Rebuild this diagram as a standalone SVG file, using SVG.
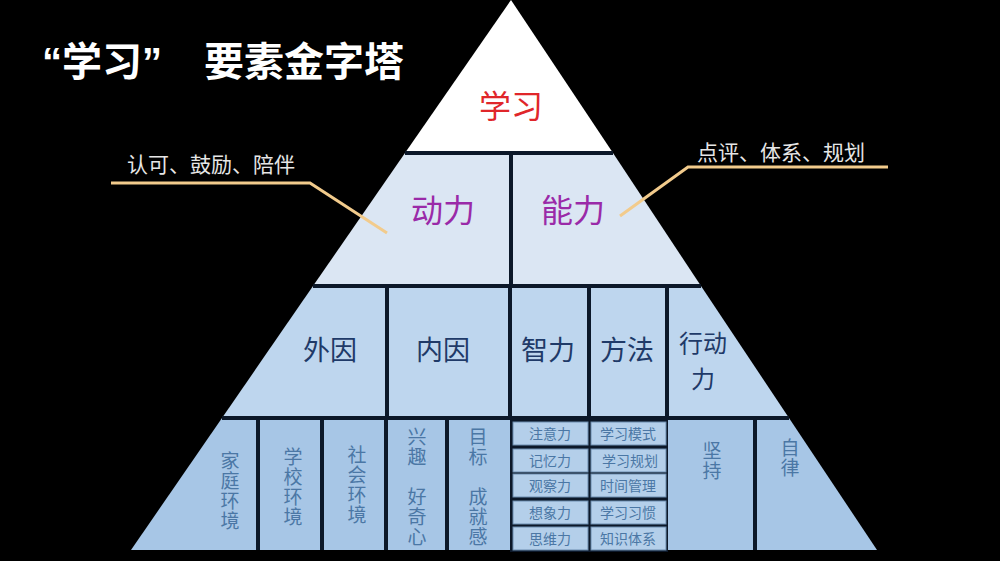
<svg xmlns="http://www.w3.org/2000/svg" width="1000" height="561" viewBox="0 0 1000 561">
<style>
text{font-family:"Noto Sans CJK SC","Noto Sans",sans-serif;text-anchor:middle}
.ttl{fill:#fff;font-weight:bold;font-size:40px;text-anchor:start;font-family:"Liberation Sans","Noto Sans CJK SC",sans-serif}
.side{fill:#e6e6e6;font-size:21px;text-anchor:start}
.lead{fill:none;stroke:#f2cb8c;stroke-width:3}
.div{stroke:#0c1829;stroke-width:4;fill:none}
.t1{fill:#e0262a;font-size:32px}
.t2{fill:#9a2aa8;font-size:32px}
.t3{fill:#1f3a68;font-size:27px}
.t4{fill:#4b77a5;font-size:19px;writing-mode:vertical-rl;text-anchor:start;letter-spacing:1px}
.cell{fill:#b4cfea;stroke:#6d8db0;stroke-width:1}
.ct{fill:#4b77a5;font-size:14px}
</style>
<rect width="1000" height="561" fill="#000"/>
<g id="title">
<text class="ttl" x="42" y="76">“学习”</text>
<text class="ttl" x="204" y="76">要素金字塔</text>
</g>
<g id="tier-fills">
<polygon points="511,0 405,153 613,153" fill="#ffffff"/>
<polygon points="405,153 613,153 701,286 313,286" fill="#dbe6f3"/>
<polygon points="313,286 701,286 789,418 222,418" fill="#bed6ee"/>
<polygon points="222,418 789,418 877,550 131,550" fill="#a7c6e6"/>
<rect x="510" y="418" width="158" height="134" fill="#0c1829"/>
</g>
<g id="connectors">
<polyline class="lead" points="111,183 310,183 387,233"/>
<polyline class="lead" points="888,167 688,167 620,216"/>
<line class="div" x1="405" y1="153" x2="613" y2="153"/>
<line class="div" x1="313" y1="286" x2="701" y2="286"/>
<line class="div" x1="222" y1="418" x2="789" y2="418"/>
<line class="div" x1="511" y1="153" x2="511" y2="286"/>
<line class="div" x1="387" y1="286" x2="387" y2="418"/>
<line class="div" x1="510" y1="286" x2="510" y2="418"/>
<line class="div" x1="589" y1="286" x2="589" y2="418"/>
<line class="div" x1="667" y1="286" x2="667" y2="418"/>
<line class="div" x1="258" y1="418" x2="258" y2="550"/>
<line class="div" x1="322" y1="418" x2="322" y2="550"/>
<line class="div" x1="386" y1="418" x2="386" y2="550"/>
<line class="div" x1="447" y1="418" x2="447" y2="550"/>
<line class="div" x1="755" y1="418" x2="755" y2="550"/>
</g>
<g id="label-left"><text class="side" x="127" y="172">认可、鼓励、陪伴</text></g>
<g id="label-right"><text class="side" x="697" y="160">点评、体系、规划</text></g>
<g id="n-xuexi"><text class="t1" x="511" y="118">学习</text></g>
<g id="n-dongli"><text class="t2" x="443" y="222">动力</text></g>
<g id="n-nengli"><text class="t2" x="573" y="222">能力</text></g>
<g id="n-waiyin"><text class="t3" x="330" y="360">外因</text></g>
<g id="n-neiyin"><text class="t3" x="443" y="360">内因</text></g>
<g id="n-zhili"><text class="t3" x="548" y="360">智力</text></g>
<g id="n-fangfa"><text class="t3" x="627" y="360">方法</text></g>
<g id="n-xingdongli"><text class="t3" x="703" y="352" style="font-size:24px">行动</text><text class="t3" x="703" y="388" style="font-size:24px">力</text></g>
<g id="n-jiating"><text class="t4" x="230" y="451">家庭环境</text></g>
<g id="n-xuexiao"><text class="t4" x="293" y="447">学校环境</text></g>
<g id="n-shehui"><text class="t4" x="357" y="445">社会环境</text></g>
<g id="n-xingqu"><text class="t4" x="417" y="427">兴趣</text><text class="t4" x="417" y="487">好奇心</text></g>
<g id="n-mubiao"><text class="t4" x="478" y="427">目标</text><text class="t4" x="478" y="487">成就感</text></g>
<g id="n-zhuyili"><rect class="cell" x="513" y="422" width="75" height="23"/><text class="ct" x="550" y="439">注意力</text></g>
<g id="n-jiyili"><rect class="cell" x="513" y="449" width="75" height="23"/><text class="ct" x="550" y="466">记忆力</text></g>
<g id="n-guanchali"><rect class="cell" x="513" y="474" width="75" height="23"/><text class="ct" x="550" y="491">观察力</text></g>
<g id="n-xiangxiangli"><rect class="cell" x="513" y="501" width="75" height="23"/><text class="ct" x="550" y="518">想象力</text></g>
<g id="n-siweili"><rect class="cell" x="513" y="527" width="75" height="23"/><text class="ct" x="550" y="544">思维力</text></g>
<g id="n-moshi"><rect class="cell" x="591" y="422" width="75" height="23"/><text class="ct" x="628" y="439">学习模式</text></g>
<g id="n-guihua"><rect class="cell" x="591" y="449" width="75" height="23"/><text class="ct" x="630" y="466">学习规划</text></g>
<g id="n-shijian"><rect class="cell" x="591" y="474" width="75" height="23"/><text class="ct" x="628" y="491">时间管理</text></g>
<g id="n-xiguan"><rect class="cell" x="591" y="501" width="75" height="23"/><text class="ct" x="628" y="518">学习习惯</text></g>
<g id="n-tixi"><rect class="cell" x="591" y="527" width="75" height="23"/><text class="ct" x="628" y="544">知识体系</text></g>
<g id="n-jianchi"><text class="t4" x="712" y="441">坚持</text></g>
<g id="n-zilv"><text class="t4" x="790" y="438">自律</text></g>
</svg>
